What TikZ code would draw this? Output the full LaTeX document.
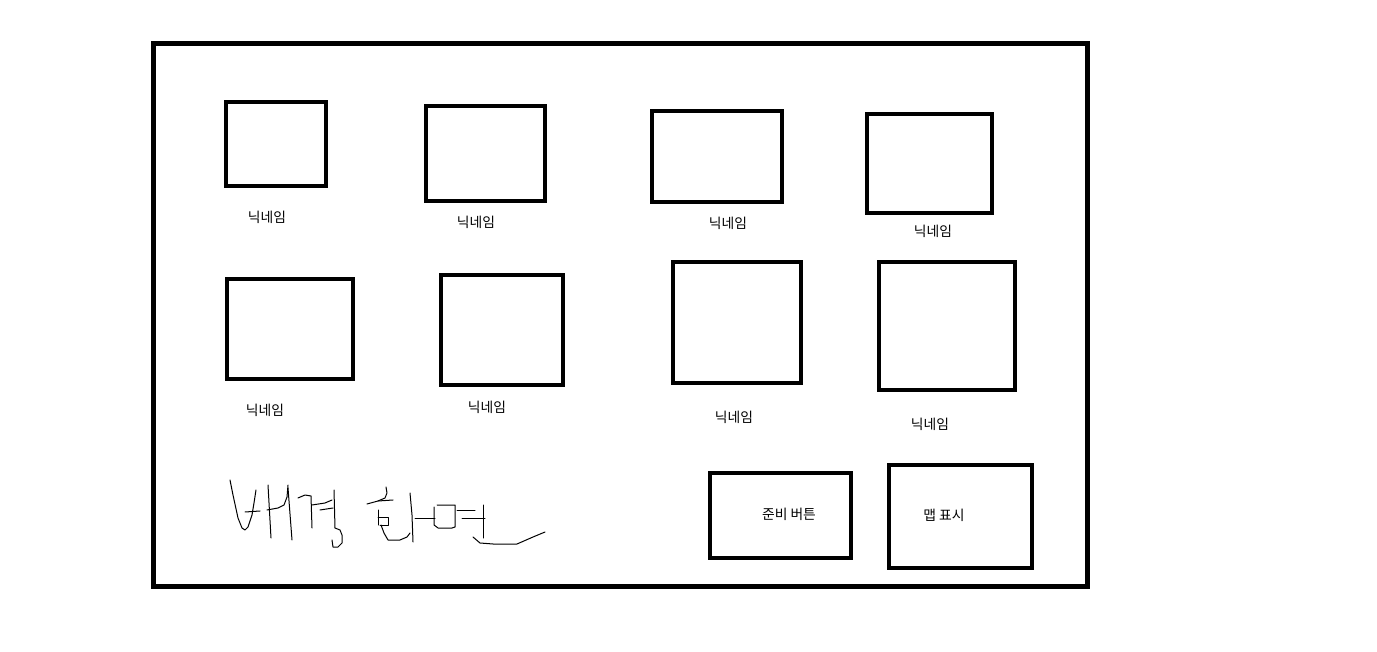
\documentclass[tikz,border=0pt]{standalone}
\usepackage{fontspec}
\newfontfamily\kr{Noto Sans CJK KR}
\begin{document}
\begin{tikzpicture}[x=1pt,y=-1pt,
  frame/.style={draw=black,line width=5pt},
  slot/.style={draw=black,line width=4.5pt},
  lbl/.style={font=\kr\fontsize{13.8}{15}\selectfont,inner sep=0pt},
  hand/.style={draw=black,line width=1pt,line join=round,line cap=round}]
\useasboundingbox (0,0) rectangle (1377,652);
\draw[frame] (153,44) rectangle (1087,586);
% row 1
\draw[slot] (226,102) rectangle (326,186);
\draw[slot] (426,106) rectangle (545,201);
\draw[slot] (652,111) rectangle (782,202);
\draw[slot] (867,114) rectangle (992,213);
\node[lbl] (n1) at (267,217) {닉네임};
\node[lbl] (n2) at (476,222) {닉네임};
\node[lbl] (n3) at (728,223) {닉네임};
\node[lbl] (n4) at (933,231) {닉네임};
% row 2
\draw[slot] (227,279) rectangle (353,379);
\draw[slot] (441,275) rectangle (563,385);
\draw[slot] (673,262) rectangle (801,383);
\draw[slot] (879,262) rectangle (1015,390);
\node[lbl] (n5) at (265,410) {닉네임};
\node[lbl] (n6) at (487,407) {닉네임};
\node[lbl] (n7) at (734,417) {닉네임};
\node[lbl] (n8) at (930,424) {닉네임};
% buttons
\draw[slot] (710,473) rectangle (851,558);
\draw[slot] (889,465) rectangle (1032,568);
\node[lbl] (ready) at (789,514) {준비 버튼};
\node[lbl] (map) at (944,515) {맵 표시};
% handwriting
\draw[hand] (230,480) -- (233,495) -- (238,518) -- (242,528) -- (245,530) -- (248,527) -- (252,515) -- (254,503) -- (256,490);
\draw[hand] (245,512) -- (260,511);
\draw[hand] (268,485) -- (271,538);
\draw[hand] (267,510) -- (278,508) -- (284,505) -- (287,497) -- (288,485);
\draw[hand] (288,488) -- (292,540);
\draw[hand] (298,498) -- (305,495) -- (311,496) -- (312,528);
\draw[hand] (312,505) -- (325,503) -- (332,500);
\draw[hand] (320,510) -- (333,508);
\draw[hand] (334,490) -- (335,528);
\draw[hand] (335,528) -- (340,530) -- (342,535) -- (342,543) -- (338,547) -- (333,547) -- (332,540);
\draw[hand] (386,487) -- (387,493) -- (385,498) -- (378,501) -- (367,504);
\draw[hand] (378,501) -- (393,500);
\draw[hand] (378,510) -- (378,525);
\draw[hand] (378,517) -- (388,517) -- (388,525) -- (380,525);
\draw[hand] (381,525) -- (384,533) -- (388,540) -- (400,540) -- (407,537) -- (410,533);
\draw[hand] (410,493) -- (412,515) -- (413,542);
\draw[hand] (415,518) -- (435,518);
\draw[hand] (437,505) -- (455,505) -- (455,527) -- (452,528) -- (438,528) -- (434,525) -- (434,507);
\draw[hand] (457,510) -- (475,510);
\draw[hand] (462,518) -- (485,518);
\draw[hand] (483,505) -- (483,538);
\draw[hand] (473,537) -- (480,543) -- (493,544) -- (517,544) -- (533,537) -- (545,532);
\end{tikzpicture}
\end{document}
